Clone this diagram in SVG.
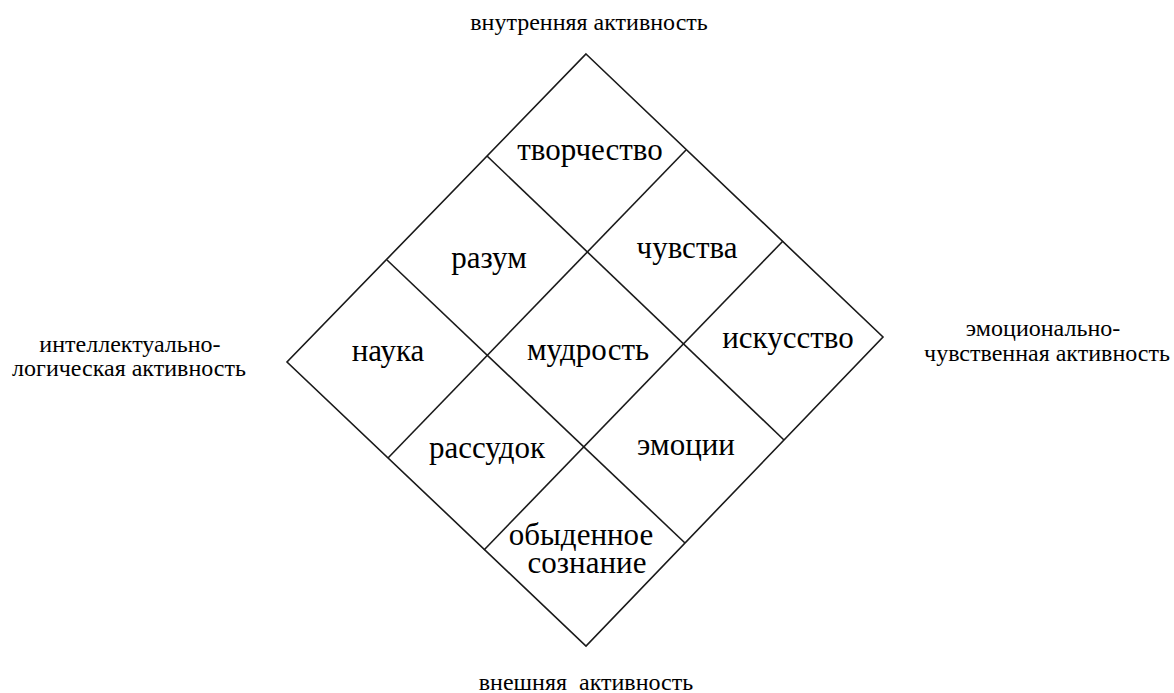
<svg xmlns="http://www.w3.org/2000/svg" width="1174" height="693" viewBox="0 0 1174 693">
<style>
.ln{fill:none;stroke:#1a1a1a;stroke-width:1.6;stroke-linejoin:miter}
text{font-family:'Liberation Serif','Times New Roman',serif;fill:#000;text-anchor:middle}
.big{font-size:31px}
.sm{font-size:24px}
</style>
<rect width="1174" height="693" fill="#fff"/>
<g id="connectors">
<polygon class="ln" points="586,54 883,337 586,646 287,362"/>
<line class="ln" x1="487" y1="156" x2="784" y2="440"/>
<line class="ln" x1="387" y1="260" x2="685" y2="543"/>
<line class="ln" x1="686" y1="150" x2="388" y2="458"/>
<line class="ln" x1="783" y1="241" x2="484" y2="550"/>
</g>
<g id="label-top"><text class="sm" x="589" y="30">внутренняя активность</text></g>
<g id="label-bottom"><text class="sm" x="586" y="690" xml:space="preserve">внешняя  активность</text></g>
<g id="label-left"><text class="sm" x="130" y="352">интеллектуально-</text><text class="sm" x="129" y="376">логическая активность</text></g>
<g id="label-right"><text class="sm" x="1043" y="336">эмоционально-</text><text class="sm" x="1047" y="361">чувственная активность</text></g>
<g id="node-tvorchestvo"><text class="big" x="590" y="160">творчество</text></g>
<g id="node-razum"><text class="big" x="489" y="268">разум</text></g>
<g id="node-chuvstva"><text class="big" x="687" y="258">чувства</text></g>
<g id="node-nauka"><text class="big" x="388" y="361">наука</text></g>
<g id="node-mudrost"><text class="big" x="588" y="360">мудрость</text></g>
<g id="node-iskusstvo"><text class="big" x="788" y="348">искусство</text></g>
<g id="node-rassudok"><text class="big" x="487" y="458">рассудок</text></g>
<g id="node-emocii"><text class="big" x="686" y="455">эмоции</text></g>
<g id="node-obydennoe"><text class="big" x="581" y="545">обыденное</text><text class="big" x="587" y="573">сознание</text></g>
</svg>
